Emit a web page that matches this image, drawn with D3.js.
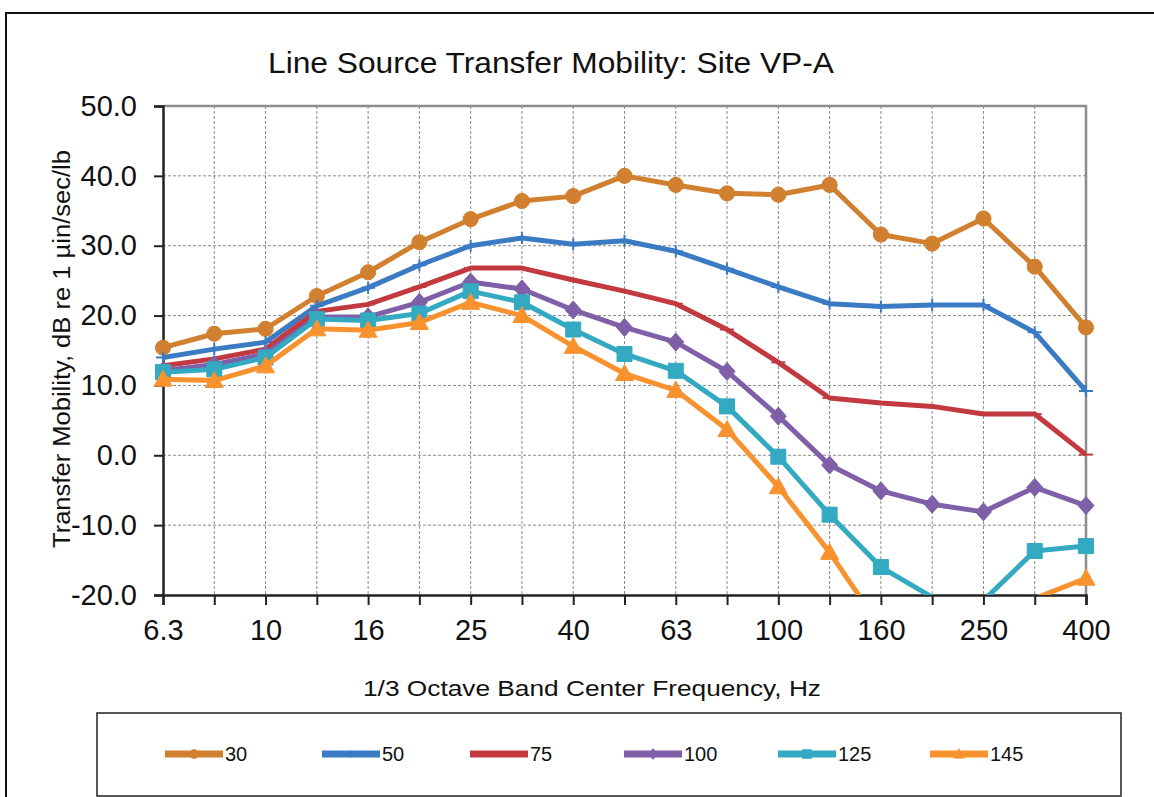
<!DOCTYPE html>
<html>
<head>
<meta charset="utf-8">
<script src="https://cdn.jsdelivr.net/npm/d3@7"></script>
<style>
  html, body { margin: 0; padding: 0; background: #fff; }
  svg { display: block; }
  text { font-family: "Liberation Sans", Arial, sans-serif; fill: #111; }
</style>
</head>
<body>
<svg id="chart" width="1154" height="797"></svg>
<script>
// 1/3 octave band centre frequencies (Hz)
const bands = ["6.3", "8", "10", "12.5", "16", "20", "25", "31.5", "40", "50", "63",
               "80", "100", "125", "160", "200", "250", "315", "400"];
// Tick labels shown on the frequency axis
const bandLabels = ["6.3", "10", "16", "25", "40", "63", "100", "160", "250", "400"];
const yTicks = [50, 40, 30, 20, 10, 0, -10, -20];

// Transfer mobility (dB re 1 µin/sec/lb) by source distance
const seriesNames = ["30", "50", "75", "100", "125", "145"];
const mob30  = [15.4, 17.4, 18.1, 22.8, 26.2, 30.5, 33.8, 36.4, 37.1, 40.0, 38.7, 37.5, 37.3, 38.7, 31.6, 30.3, 33.9, 27.0, 18.3];
const mob50  = [14.0, 15.2, 16.2, 21.4, 24.0, 27.2, 30.0, 31.1, 30.2, 30.7, 29.2, 26.7, 24.1, 21.7, 21.3, 21.5, 21.5, 17.6, 9.2];
const mob75  = [12.8, 13.8, 15.2, 20.6, 21.6, 24.1, 26.8, 26.8, 25.1, 23.5, 21.7, 18.0, 13.3, 8.2, 7.5, 7.0, 5.9, 5.9, 0.1];
const mob100 = [12.1, 13.0, 14.5, 19.8, 19.8, 21.9, 24.8, 23.8, 20.8, 18.3, 16.2, 12.0, 5.6, -1.4, -5.1, -7.0, -8.1, -4.6, -7.2];
const mob125 = [11.9, 12.3, 14.0, 19.5, 19.3, 20.3, 23.5, 21.9, 18.0, 14.5, 12.1, 7.0, -0.2, -8.5, -16.0, -20.3, -20.8, -13.7, -13.0];
const mob145 = [10.9, 10.7, 12.8, 18.1, 17.9, 19.0, 21.9, 20.0, 15.6, 11.7, 9.3, 3.7, -4.5, -13.9, -24.7, -26.5, -25.5, -20.5, -17.6];

const seriesValues = [mob30, mob50, mob75, mob100, mob125, mob145];
const seriesColors = ["#D0802F", "#3B7BC4", "#C2393F", "#7F5FA8", "#33A9C2", "#F7922F"];
const seriesMarkers = ["circle", "plus", "dash", "diamond", "square", "triangle"];

const svg = d3.select("#chart");
const FONT = "Liberation Sans, Arial, sans-serif";

// outer chart frame (left and top edges)
svg.append("path")
  .attr("d", "M6,797 V13 H1154")
  .attr("fill", "none").attr("stroke", "#111").attr("stroke-width", 2);

const plot = { left: 163, right: 1086, top: 106, bottom: 595 };

const x = d3.scalePoint().domain(bands).range([plot.left, plot.right]);
const y = d3.scaleLinear().domain([-20, 50]).range([plot.bottom, plot.top]);

// dashed grid
const grid = svg.append("g").attr("stroke", "#8a8a8a").attr("stroke-width", 1)
  .attr("stroke-dasharray", "3,2");
grid.selectAll("line.v").data(bands.slice(1, -1)).join("line")
  .attr("x1", d => x(d)).attr("x2", d => x(d))
  .attr("y1", plot.top).attr("y2", plot.bottom);
grid.selectAll("line.h").data(yTicks.filter(t => t > -20 && t < 50)).join("line")
  .attr("x1", plot.left).attr("x2", plot.right)
  .attr("y1", d => y(d)).attr("y2", d => y(d));

// top and right edges of the plot area
svg.append("path")
  .attr("d", `M${plot.left},${plot.top} H${plot.right} V${plot.bottom}`)
  .attr("fill", "none").attr("stroke", "#8c8c8c").attr("stroke-width", 2.5);

// y axis (plain hyphen for negative values)
const yFmt = d => d.toFixed(1);
const yAxis = svg.append("g").attr("transform", `translate(${plot.left},0)`)
  .call(d3.axisLeft(y).tickValues(yTicks).tickFormat(yFmt).tickSize(9).tickPadding(17));
yAxis.select(".domain").attr("stroke", "#222").attr("stroke-width", 2.5);
yAxis.selectAll(".tick line").attr("stroke", "#222").attr("stroke-width", 2);
yAxis.selectAll(".tick text").attr("font-size", 29).attr("fill", "#111")
  .attr("font-family", FONT);

// x axis: a tick at every band, a label at every other band
const xAxis = svg.append("g").attr("transform", `translate(0,${plot.bottom})`)
  .call(d3.axisBottom(x).tickSize(10).tickPadding(14)
    .tickFormat(d => bandLabels.includes(d) ? d : ""));
xAxis.select(".domain").attr("stroke", "#222").attr("stroke-width", 2.5);
xAxis.selectAll(".tick line").attr("stroke", "#222").attr("stroke-width", 2);
xAxis.selectAll(".tick text").attr("font-size", 29).attr("fill", "#111")
  .attr("font-family", FONT);

// titles
svg.append("text").attr("x", 551).attr("y", 73).attr("text-anchor", "middle")
  .attr("font-size", 29).attr("textLength", 566).attr("lengthAdjust", "spacingAndGlyphs")
  .text("Line Source Transfer Mobility: Site VP-A");
svg.append("text").attr("x", 592).attr("y", 696).attr("text-anchor", "middle")
  .attr("font-size", 22).attr("textLength", 458).attr("lengthAdjust", "spacingAndGlyphs")
  .text("1/3 Octave Band Center Frequency, Hz");
svg.append("text")
  .attr("transform", "translate(70,349) rotate(-90)")
  .attr("text-anchor", "middle").attr("font-size", 23)
  .attr("textLength", 398).attr("lengthAdjust", "spacingAndGlyphs")
  .text("Transfer Mobility, dB re 1 µin/sec/lb");

// marker shapes
function markerPath(kind) {
  switch (kind) {
    case "circle": return d3.symbol(d3.symbolCircle, 180)();
    case "diamond": return "M0,-9 L8,0 L0,9 L-8,0 Z";
    case "square": return "M-7.5,-7.5 H7.5 V7.5 H-7.5 Z";
    case "triangle": return "M0,-9 L9,7 L-9,7 Z";
    case "plus": return "M-7,0 H7 M0,-6 V6";
    case "dash": return "M-7,0 H7";
  }
}

// series lines, clipped to the plot area
svg.append("clipPath").attr("id", "plotClip").append("rect")
  .attr("x", plot.left).attr("y", plot.top)
  .attr("width", plot.right - plot.left).attr("height", plot.bottom - plot.top);

const line = d3.line().x((d, i) => x(bands[i])).y(d => y(d));
const seriesG = svg.append("g");
seriesValues.forEach((vals, k) => {
  const g = seriesG.append("g");
  g.append("path").attr("d", line(vals)).attr("clip-path", "url(#plotClip)")
    .attr("fill", "none").attr("stroke", seriesColors[k]).attr("stroke-width", 5)
    .attr("stroke-linejoin", "round");
  const kind = seriesMarkers[k];
  const open = kind === "plus" || kind === "dash";
  g.selectAll("path.m").data(vals.map((v, i) => [i, v]).filter(d => d[1] >= -20 && d[1] <= 50))
    .join("path").attr("class", "m")
    .attr("transform", d => `translate(${x(bands[d[0]])},${y(d[1])})`)
    .attr("d", markerPath(kind))
    .attr("fill", open ? "none" : seriesColors[k])
    .attr("stroke", seriesColors[k]).attr("stroke-width", open ? 2 : 1);
});

// legend
svg.append("rect").attr("x", 97).attr("y", 713).attr("width", 1024).attr("height", 83)
  .attr("fill", "#fff").attr("stroke", "#222").attr("stroke-width", 1.5);
const legendX = [165, 322, 470, 624, 778, 930];
seriesNames.forEach((name, k) => {
  const g = svg.append("g").attr("transform", `translate(${legendX[k]},754)`);
  g.append("line").attr("x1", 0).attr("x2", 58).attr("stroke", seriesColors[k]).attr("stroke-width", 7);
  const kind = seriesMarkers[k];
  const open = kind === "plus" || kind === "dash";
  g.append("path").attr("transform", "translate(29,0) scale(0.6)").attr("d", markerPath(kind))
    .attr("fill", open ? "none" : seriesColors[k]).attr("stroke", seriesColors[k]).attr("stroke-width", open ? 2 : 1);
  g.append("text").attr("x", 60).attr("y", 7).attr("font-size", 20).text(name);
});
</script>
</body>
</html>
